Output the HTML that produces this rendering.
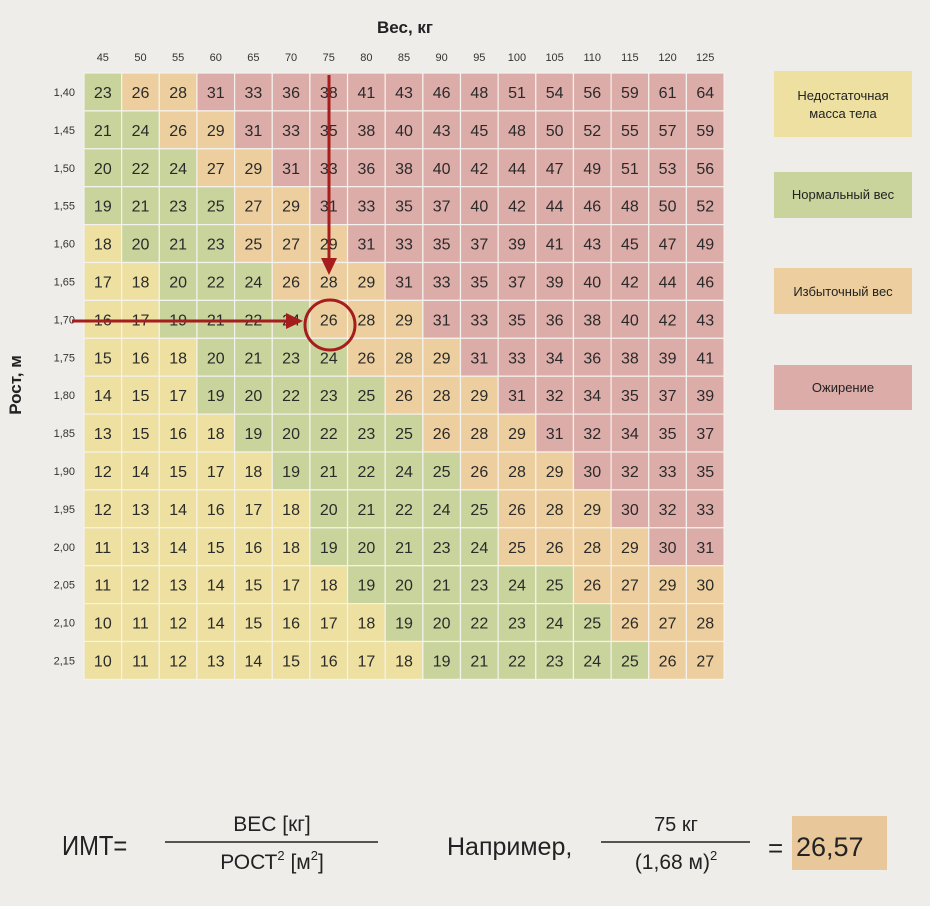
<!DOCTYPE html>
<html><head><meta charset="utf-8"><style>
body{margin:0;background:#eeedea;}
svg{display:block;font-family:"Liberation Sans","DejaVu Sans",sans-serif;}
</style></head><body>
<svg id="chart" width="930" height="906" viewBox="0 0 930 906" xmlns="http://www.w3.org/2000/svg">
<rect width="930" height="906" fill="#eeedea"/>
<text x="405" y="33" text-anchor="middle" font-size="17" font-weight="bold" fill="#222">Вес, кг</text>
<text transform="translate(21,385) rotate(-90)" text-anchor="middle" font-size="17" font-weight="bold" fill="#222">Рост, м</text>
<g id="grid"></g>
<g id="ticks"></g>
<g stroke="#a51d1d" fill="none" stroke-width="3">
<line x1="329" y1="75" x2="329" y2="262"/>
<polygon points="321,258 337,258 329,275" fill="#a51d1d" stroke="none"/>
<line x1="72" y1="321" x2="290" y2="321"/>
<polygon points="286,313 286,329 303,321" fill="#a51d1d" stroke="none"/>
<circle cx="330" cy="325" r="25"/>
</g>
<g font-size="13" fill="#222" text-anchor="middle">
<rect x="774" y="71" width="138" height="66" fill="#ede0a0"/>
<text x="843" y="100">Недостаточная</text>
<text x="843" y="118">масса тела</text>
<rect x="774" y="172" width="138" height="46" fill="#c8d49c"/>
<text x="843" y="199">Нормальный вес</text>
<rect x="774" y="268" width="138" height="46" fill="#edcf9f"/>
<text x="843" y="296">Избыточный вес</text>
<rect x="774" y="365" width="138" height="45" fill="#dcaca8"/>
<text x="843" y="392">Ожирение</text>
</g>
<g fill="#222">
<text x="62" y="855" font-size="28" transform="translate(62,0) scale(0.85,1) translate(-62,0)">ИМТ=</text>
<text x="272" y="831" font-size="21" text-anchor="middle">ВЕС [кг]</text>
<line x1="165" y1="842" x2="378" y2="842" stroke="#222" stroke-width="1.5"/>
<text x="272" y="869" font-size="21" text-anchor="middle">РОСТ<tspan font-size="13" dy="-9">2</tspan><tspan dy="9"> [м</tspan><tspan font-size="13" dy="-9">2</tspan><tspan dy="9">]</tspan></text>
<text x="447" y="855" font-size="25">Например,</text>
<text x="676" y="831" font-size="20" text-anchor="middle">75 кг</text>
<line x1="601" y1="842" x2="750" y2="842" stroke="#222" stroke-width="1.5"/>
<text x="676" y="869" font-size="21" text-anchor="middle">(1,68 м)<tspan font-size="13" dy="-9">2</tspan></text>
<text x="768" y="857" font-size="26">=</text>
<rect x="792" y="816" width="95" height="54" fill="#e8c89a"/>
<text x="796" y="856" font-size="27">26,57</text>
</g>
</svg>
<script>
const weights=[45,50,55,60,65,70,75,80,85,90,95,100,105,110,115,120,125];
const heights=[1.40,1.45,1.50,1.55,1.60,1.65,1.70,1.75,1.80,1.85,1.90,1.95,2.00,2.05,2.10,2.15];
const heightLabels=["1,40","1,45","1,50","1,55","1,60","1,65","1,70","1,75","1,80","1,85","1,90","1,95","2,00","2,05","2,10","2,15"];
const values=[
[23,26,28,31,33,36,38,41,43,46,48,51,54,56,59,61,64],
[21,24,26,29,31,33,35,38,40,43,45,48,50,52,55,57,59],
[20,22,24,27,29,31,33,36,38,40,42,44,47,49,51,53,56],
[19,21,23,25,27,29,31,33,35,37,40,42,44,46,48,50,52],
[18,20,21,23,25,27,29,31,33,35,37,39,41,43,45,47,49],
[17,18,20,22,24,26,28,29,31,33,35,37,39,40,42,44,46],
[16,17,19,21,22,24,26,28,29,31,33,35,36,38,40,42,43],
[15,16,18,20,21,23,24,26,28,29,31,33,34,36,38,39,41],
[14,15,17,19,20,22,23,25,26,28,29,31,32,34,35,37,39],
[13,15,16,18,19,20,22,23,25,26,28,29,31,32,34,35,37],
[12,14,15,17,18,19,21,22,24,25,26,28,29,30,32,33,35],
[12,13,14,16,17,18,20,21,22,24,25,26,28,29,30,32,33],
[11,13,14,15,16,18,19,20,21,23,24,25,26,28,29,30,31],
[11,12,13,14,15,17,18,19,20,21,23,24,25,26,27,29,30],
[10,11,12,14,15,16,17,18,19,20,22,23,24,25,26,27,28],
[10,11,12,13,14,15,16,17,18,19,21,22,23,24,25,26,27]];
const NS="http://www.w3.org/2000/svg";
const X0=84,CW=37.65,Y0=73,RH=37.9;
function xPos(i){return X0+i*CW;}
function yPos(j){return Y0+j*RH;}
function colorFor(w,h){const b=w/(h*h);return b<18.5?"#ede0a0":b<25?"#c8d49c":b<30?"#edcf9f":"#dcaca8";}
const grid=document.getElementById('grid'),ticks=document.getElementById('ticks');
weights.forEach((w,i)=>{
 const t=document.createElementNS(NS,'text');
 
 
 t.setAttribute('x',xPos(i)+CW/2);t.setAttribute('y',61);t.setAttribute('text-anchor','middle');
 t.setAttribute('font-size','11');t.setAttribute('fill','#333');t.textContent=w;ticks.appendChild(t);
});
heights.forEach((h,j)=>{
 const t=document.createElementNS(NS,'text');
 
 
 t.setAttribute('x',75);t.setAttribute('y',yPos(j)+RH/2+4);t.setAttribute('text-anchor','end');
 t.setAttribute('font-size','11');t.setAttribute('fill','#333');t.textContent=heightLabels[j];ticks.appendChild(t);
 weights.forEach((w,i)=>{
  const r=document.createElementNS(NS,'rect');
  
  
  r.setAttribute('x',xPos(i));r.setAttribute('y',yPos(j));r.setAttribute('width',CW);r.setAttribute('height',RH);
  r.setAttribute('fill',colorFor(w,h));r.setAttribute('stroke','#f4f2ee');r.setAttribute('stroke-width','1.2');
  grid.appendChild(r);
  const t2=document.createElementNS(NS,'text');
  
  
  t2.setAttribute('x',xPos(i)+CW/2);t2.setAttribute('y',yPos(j)+RH/2+6);t2.setAttribute('text-anchor','middle');
  t2.setAttribute('font-size','16');t2.setAttribute('fill','#2a2a2a');t2.textContent=values[j][i];grid.appendChild(t2);
 });
});
</script>
</body></html>
